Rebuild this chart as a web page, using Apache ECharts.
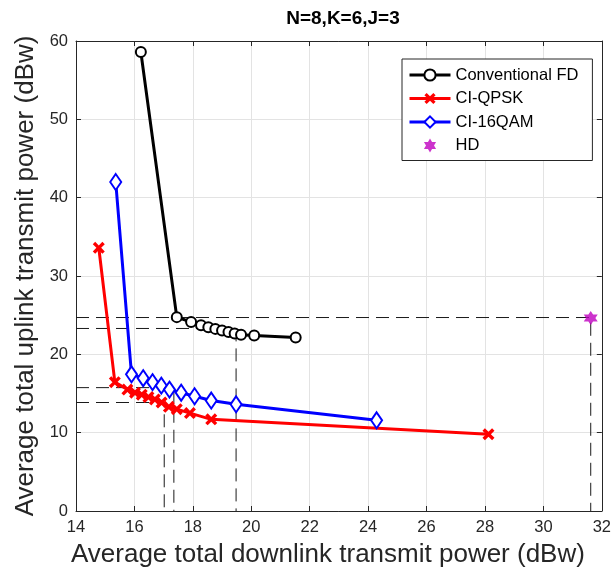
<!DOCTYPE html>
<html>
<head>
<meta charset="utf-8">
<script src="https://cdn.jsdelivr.net/npm/echarts@6/dist/echarts.min.js"></script>
<style>
  html, body { margin: 0; padding: 0; background: #fff; }
  #chart { width: 614px; height: 574px; }
</style>
</head>
<body>
<div id="chart"></div>
<script>
// ---- data ----
const fdX = [16.22, 17.45, 17.94, 18.28, 18.53, 18.77, 19.0, 19.22, 19.43, 19.65, 20.1, 21.52];
const fdY = [58.6, 24.75, 24.13, 23.7, 23.45, 23.25, 23.05, 22.85, 22.65, 22.5, 22.4, 22.14];

const qpskX = [14.78, 15.33, 15.76, 16.02, 16.25, 16.48, 16.7, 16.93, 17.18, 17.45, 17.9, 18.63, 28.12];
const qpskY = [33.6, 16.45, 15.5, 15.1, 14.85, 14.55, 14.25, 13.85, 13.3, 13.0, 12.5, 11.7, 9.8];

const qamX = [15.36, 15.9, 16.3, 16.62, 16.92, 17.2, 17.6, 18.06, 18.63, 19.48, 24.29];
const qamY = [42.0, 17.45, 16.95, 16.45, 16.0, 15.5, 15.1, 14.65, 14.1, 13.62, 11.58];

const hdX = [31.62];
const hdY = [24.65];

// dashed guide lines: from (xMin, y) to (x, y) then down to (x, 0)
const guideX = [31.62, 19.48, 17.35, 17.02];
const guideY = [24.7, 23.3, 15.75, 13.85];

const seriesNames = ['Conventional FD', 'CI-QPSK', 'CI-16QAM', 'HD'];
const xTicks = [14, 16, 18, 20, 22, 24, 26, 28, 30, 32];
const yTicks = [0, 10, 20, 30, 40, 50, 60];

const pair = (xs, ys) => xs.map((x, i) => [x, ys[i]]);
const FONT = 'Liberation Sans';
const AX = '#262626';

const crossPath = 'path://M0,2 L2,0 L5,3 L8,0 L10,2 L7,5 L10,8 L8,10 L5,7 L2,10 L0,8 L3,5 Z';
const hexPath = 'path://M5,0 L9.33,7.5 L0.67,7.5 Z M5,10 L0.67,2.5 L9.33,2.5 Z';

const guideSeries = guideX.map((gx, i) => ({
  type: 'line',
  xAxisIndex: 0, yAxisIndex: 0,
  data: [[xTicks[0], guideY[i]], [gx, guideY[i]], [gx, yTicks[0]]],
  symbol: 'none',
  silent: true,
  lineStyle: { color: '#1a1a1a', width: 1, type: [13, 7] },
  z: 1
}));

const chart = echarts.init(document.getElementById('chart'), null, { renderer: 'canvas' });

const option = {
  backgroundColor: '#fff',
  animation: false,
  textStyle: { fontFamily: FONT },
  title: {
    text: 'N=8,K=6,J=3',
    left: 338, top: 4, textAlign: 'center',
    textStyle: { fontFamily: FONT, fontSize: 19, fontWeight: 'bold', color: '#000' }
  },
  grid: { left: 76, right: 10, top: 41, bottom: 63, show: false },
  legend: {
    data: seriesNames,
    orient: 'vertical',
    left: 402, top: 59,
    backgroundColor: '#fff',
    borderColor: AX, borderWidth: 1,
    padding: [7, 14, 6, 6],
    itemGap: 5.5,
    itemWidth: 41, itemHeight: 14,
    lineStyle: { width: 3 },
    textStyle: { fontFamily: FONT, fontSize: 16.5, lineHeight: 18, color: '#000' }
  },
  xAxis: [{
    type: 'value', min: xTicks[0], max: xTicks[xTicks.length - 1], interval: 2,
    name: 'Average total downlink transmit power (dBw)',
    nameLocation: 'middle', nameGap: 31,
    nameTextStyle: { fontFamily: FONT, fontSize: 26, color: AX, padding: [0, 22, 0, 0] },
    axisLine: { show: true, onZero: false, lineStyle: { color: AX, width: 1 } },
    axisTick: { show: true, inside: true, length: 5, lineStyle: { color: AX } },
    axisLabel: { fontFamily: FONT, fontSize: 16.5, color: AX, margin: 8 },
    splitLine: { show: true, lineStyle: { color: '#e3e3e3', width: 1 } }
  }, {
    type: 'value', position: 'top', min: xTicks[0], max: xTicks[xTicks.length - 1], interval: 2,
    axisLine: { show: true, onZero: false, lineStyle: { color: AX, width: 1 } },
    axisTick: { show: true, inside: true, length: 5, lineStyle: { color: AX } },
    axisLabel: { show: false }, splitLine: { show: false }
  }],
  yAxis: [{
    type: 'value', min: yTicks[0], max: yTicks[yTicks.length - 1], interval: 10,
    name: 'Average total uplink transmit power (dBw)',
    nameLocation: 'middle', nameGap: 36,
    nameTextStyle: { fontFamily: FONT, fontSize: 26, color: AX },
    axisLine: { show: true, onZero: false, lineStyle: { color: AX, width: 1 } },
    axisTick: { show: true, inside: true, length: 5, lineStyle: { color: AX } },
    axisLabel: { fontFamily: FONT, fontSize: 16.5, color: AX, margin: 8 },
    splitLine: { show: true, lineStyle: { color: '#e3e3e3', width: 1 } }
  }, {
    type: 'value', position: 'right', min: yTicks[0], max: yTicks[yTicks.length - 1], interval: 10,
    axisLine: { show: true, onZero: false, lineStyle: { color: AX, width: 1 } },
    axisTick: { show: true, inside: true, length: 5, lineStyle: { color: AX } },
    axisLabel: { show: false }, splitLine: { show: false }
  }],
  series: [
    ...guideSeries,
    {
      name: seriesNames[0], type: 'line', data: pair(fdX, fdY),
      symbol: 'emptyCircle', symbolSize: 10,
      lineStyle: { color: '#000', width: 3 },
      itemStyle: { color: '#000', borderColor: '#000', borderWidth: 3 },
      z: 3
    },
    {
      name: seriesNames[1], type: 'line', data: pair(qpskX, qpskY),
      symbol: crossPath, symbolSize: 12,
      lineStyle: { color: '#ff0000', width: 3 },
      itemStyle: { color: '#ff0000' },
      z: 3
    },
    {
      name: seriesNames[2], type: 'line', data: pair(qamX, qamY),
      symbol: 'emptyDiamond', symbolSize: [11, 16],
      lineStyle: { color: '#0000ff', width: 3 },
      itemStyle: { color: '#0000ff', borderColor: '#0000ff', borderWidth: 3 },
      z: 3
    },
    {
      name: seriesNames[3], type: 'scatter', data: pair(hdX, hdY),
      symbol: hexPath, symbolSize: 14,
      itemStyle: { color: '#bf00bf' },
      z: 4
    }
  ]
};
chart.setOption(option);
</script>
</body>
</html>
